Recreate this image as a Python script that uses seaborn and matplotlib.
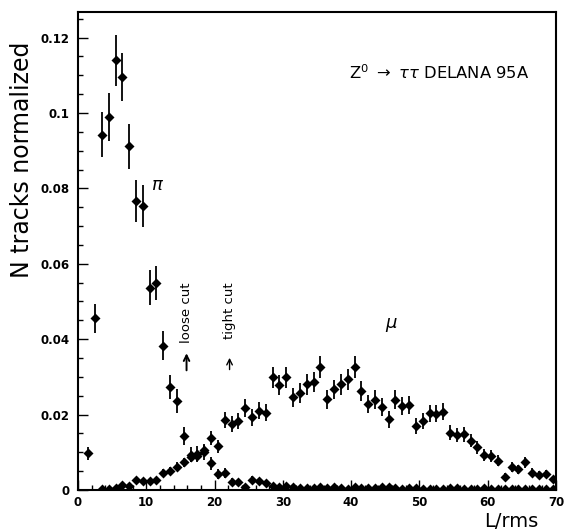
import matplotlib
matplotlib.use("Agg")
import matplotlib.pyplot as plt
from matplotlib.ticker import MultipleLocator, FixedLocator, FixedFormatter
import seaborn as sns
import pandas as pd

sns.set_style("ticks")
plt.rcParams["font.family"] = ["DejaVu Sans"]
plt.rcParams["text.color"] = "black"
plt.rcParams["axes.labelcolor"] = "black"

# pion sample: L/rms bin centre, fraction of tracks, error
pi_x = [1.5, 2.5, 3.5, 4.5, 5.5, 6.5, 7.5, 8.5, 9.5, 10.5, 11.5, 12.5, 13.5, 14.5,
        15.5, 16.5, 17.5, 18.5, 19.5, 20.5, 21.5, 22.5, 23.5, 24.5, 25.5, 26.5, 27.5,
        28.5, 29.5, 30.5, 31.5, 32.5, 33.5, 34.5, 35.5, 36.5, 37.5, 38.5, 39.5, 40.5,
        41.5, 42.5, 43.5, 44.5, 45.5, 46.5, 47.5, 48.5, 49.5, 50.5, 51.5, 52.5, 53.5,
        54.5, 55.5, 56.5, 57.5, 58.5, 59.5, 60.5, 61.5, 62.5, 63.5, 64.5, 65.5, 66.5,
        67.5, 68.5, 69.5]
pi_y = [0.0097, 0.0455, 0.0942, 0.0990, 0.1140, 0.1095, 0.0912, 0.0767, 0.0753, 0.0537,
        0.0549, 0.0383, 0.0273, 0.0236, 0.0143, 0.0094, 0.0096, 0.0100, 0.0071, 0.0042,
        0.0044, 0.0022, 0.0020, 0.0008, 0.0027, 0.0023, 0.0018,
        0.0010, 0.0008, 0.0011, 0.0008, 0.0005, 0.0004, 0.0005, 0.0008, 0.0004, 0.0007,
        0.0004, 0.0003, 0.0008, 0.0006, 0.0004, 0.0006, 0.0009, 0.0008, 0.0005, 0.0003,
        0.0006, 0.0004, 0.0003, 0.0002, 0.0003, 0.0002, 0.0004, 0.0004, 0.0003, 0.0002,
        0.0003, 0.0004, 0.0002, 0.0002, 0.0003, 0.0002, 0.0003, 0.0002, 0.0003, 0.0003,
        0.0002, 0.0002]
pi_err = [0.0018, 0.0038, 0.0060, 0.0064, 0.0068, 0.0064, 0.0060, 0.0055, 0.0055, 0.0046,
          0.0046, 0.0038, 0.0033, 0.0031, 0.0025, 0.0020, 0.0020, 0.0020, 0.0017, 0.0013,
          0.0013, 0.0009, 0.0009, 0.0006, 0.0010, 0.0009, 0.0008,
          0.0005, 0.0004, 0.0005, 0.0004, 0.0003, 0.0003, 0.0003, 0.0004, 0.0003, 0.0004,
          0.0003, 0.0002, 0.0004, 0.0003, 0.0003, 0.0003, 0.0004, 0.0004, 0.0003, 0.0002,
          0.0003, 0.0003, 0.0002, 0.0002, 0.0002, 0.0002, 0.0003, 0.0003, 0.0002, 0.0002,
          0.0002, 0.0003, 0.0002, 0.0002, 0.0002, 0.0002, 0.0002, 0.0002, 0.0002, 0.0002,
          0.0002, 0.0002]

# muon sample
mu_x = [3.5, 4.5, 5.5, 6.5, 7.5, 8.5, 9.5, 10.5, 11.5, 12.5, 13.5, 14.5, 15.5, 16.5,
        17.5, 18.5, 19.5, 20.5, 21.5, 22.5, 23.5, 24.5, 25.5, 26.5, 27.5, 28.5, 29.5,
        30.5, 31.5, 32.5, 33.5, 34.5, 35.5, 36.5, 37.5, 38.5, 39.5, 40.5, 41.5, 42.5,
        43.5, 44.5, 45.5, 46.5, 47.5, 48.5, 49.5, 50.5, 51.5, 52.5, 53.5, 54.5, 55.5,
        56.5, 57.5, 58.5, 59.5, 60.5, 61.5, 62.5, 63.5, 64.5, 65.5, 66.5, 67.5, 68.5,
        69.5]
mu_y = [0.0002, 0.0003, 0.0006, 0.0012, 0.0010, 0.0027, 0.0025, 0.0024, 0.0026, 0.0045,
        0.0050, 0.0062, 0.0073, 0.0088, 0.0090, 0.0105, 0.0138, 0.0116, 0.0186, 0.0176,
        0.0182, 0.0217, 0.0193, 0.0210, 0.0205, 0.0299, 0.0279, 0.0299, 0.0246, 0.0258,
        0.0280, 0.0287, 0.0327, 0.0241, 0.0267, 0.0280, 0.0294, 0.0327, 0.0263, 0.0227,
        0.0239, 0.0221, 0.0187, 0.0239, 0.0223, 0.0225, 0.0170, 0.0183, 0.0203, 0.0202,
        0.0208, 0.0152, 0.0146, 0.0148, 0.0131, 0.0113, 0.0093, 0.0090, 0.0078, 0.0035,
        0.0062, 0.0055, 0.0073, 0.0046, 0.0040, 0.0042, 0.0028]
mu_err = [0.0002, 0.0003, 0.0004, 0.0005, 0.0005, 0.0008, 0.0008, 0.0008, 0.0008, 0.0010,
          0.0011, 0.0012, 0.0013, 0.0015, 0.0015, 0.0016, 0.0019, 0.0017, 0.0022, 0.0021,
          0.0021, 0.0024, 0.0022, 0.0023, 0.0023, 0.0028, 0.0027, 0.0028, 0.0025, 0.0026,
          0.0027, 0.0027, 0.0029, 0.0025, 0.0026, 0.0027, 0.0028, 0.0029, 0.0026, 0.0024,
          0.0025, 0.0024, 0.0022, 0.0025, 0.0024, 0.0024, 0.0021, 0.0022, 0.0023, 0.0023,
          0.0023, 0.0020, 0.0019, 0.0020, 0.0018, 0.0017, 0.0016, 0.0015, 0.0014, 0.0010,
          0.0013, 0.0012, 0.0014, 0.0011, 0.0010, 0.0011, 0.0009]

y_ticks = [0, 0.02, 0.04, 0.06, 0.08, 0.1, 0.12]
y_ticklabels = ["0", "0.02", "0.04", "0.06", "0.08", "0.1", "0.12"]
x_ticks = [0, 10, 20, 30, 40, 50, 60, 70]

# cut positions in L/rms
loose_cut = 15.9
tight_cut = 22.2

df = pd.concat([
    pd.DataFrame({"L": pi_x, "frac": pi_y, "err": pi_err, "particle": "pi"}),
    pd.DataFrame({"L": mu_x, "frac": mu_y, "err": mu_err, "particle": "mu"}),
], ignore_index=True)

fig = plt.figure(figsize=(5.65, 5.32), dpi=100)
ax = fig.add_axes([0.138, 0.079, 0.846, 0.8985])

for _, grp in df.groupby("particle"):
    ax.errorbar(grp["L"], grp["frac"], yerr=grp["err"], xerr=0.3, fmt="none",
                ecolor="black", elinewidth=1.3, capsize=0, zorder=2)
sns.scatterplot(data=df, x="L", y="frac", marker="D", s=26, color="black",
                edgecolor="black", linewidth=0, legend=False, ax=ax, zorder=3)

ax.set_xlim(0, 70)
ax.set_ylim(0, 0.1268)
ax.xaxis.set_major_locator(FixedLocator(x_ticks))
ax.xaxis.set_minor_locator(MultipleLocator(2))
ax.yaxis.set_major_locator(FixedLocator(y_ticks))
ax.yaxis.set_major_formatter(FixedFormatter(y_ticklabels))
ax.yaxis.set_minor_locator(MultipleLocator(0.005))
ax.tick_params(which="both", direction="in", top=False, right=False, colors="black",
               width=1.0)
ax.tick_params(which="major", length=7, labelsize=8.5)
ax.tick_params(axis="x", which="major", pad=4)
ax.tick_params(axis="y", which="major", pad=6)
ax.tick_params(which="minor", length=3.5)
for lab in ax.get_xticklabels() + ax.get_yticklabels():
    lab.set_fontweight("bold")
for sp in ax.spines.values():
    sp.set_visible(True)
    sp.set_color("black")
    sp.set_linewidth(1.5)

ax.set_xlabel("")
ax.set_ylabel("")
fig.text(0.039, 0.70, "N tracks normalized", rotation=90, fontsize=17,
         ha="center", va="center")
fig.text(0.905, 0.019, "L/rms", fontsize=14, ha="center", va="center")

ax.text(39.7, 0.1106, r"Z$^{0}$ $\rightarrow$ $\tau\tau$ DELANA 95A",
        fontsize=11.8, ha="left", va="center")
ax.text(11.6, 0.0809, r"$\pi$", fontsize=13, ha="center", va="center")
ax.text(45.9, 0.0438, r"$\mu$", fontsize=13, ha="center", va="center")

ax.text(loose_cut, 0.0470, "loose cut", rotation=90, fontsize=9.5,
        ha="center", va="center")
ax.text(tight_cut, 0.0475, "tight cut", rotation=90, fontsize=9.5,
        ha="center", va="center")
ax.annotate("", xy=(loose_cut, 0.0370), xytext=(loose_cut, 0.0310),
            arrowprops=dict(arrowstyle="->", color="black", lw=1.4))
ax.annotate("", xy=(tight_cut, 0.0358), xytext=(tight_cut, 0.0312),
            arrowprops=dict(arrowstyle="->", color="black", lw=1.0))

fig.savefig("out.png", dpi=100)
